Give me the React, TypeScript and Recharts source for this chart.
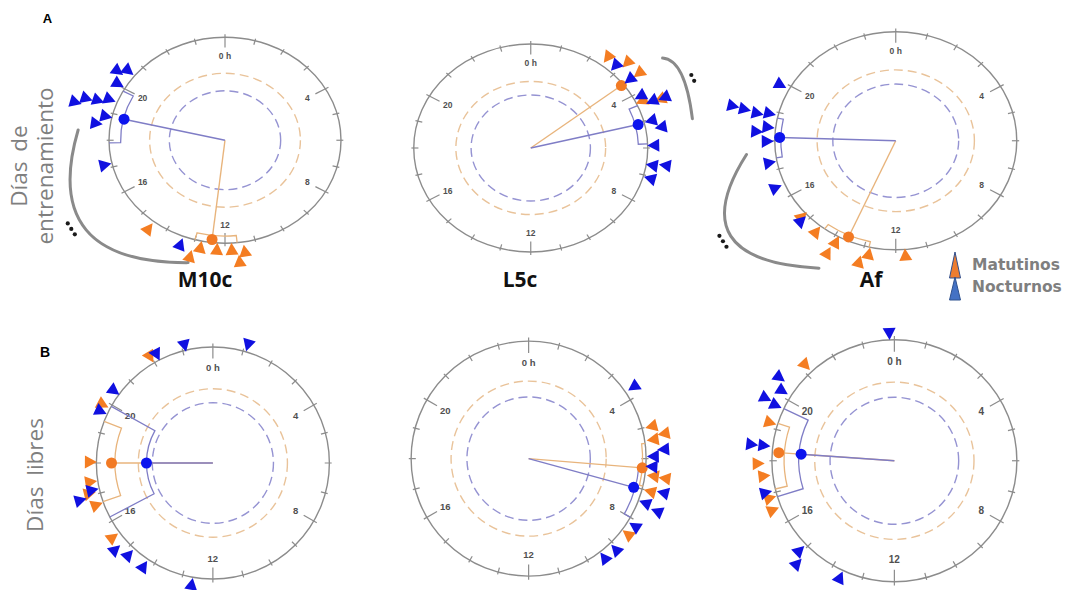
import React from "react";
import { ScatterChart, Scatter, XAxis, YAxis } from "recharts";

type HR = [number, number]; // [hora, radio]
type Ci = [number, number, number] | null; // [desde, hasta, radio]

const COLUMNS = ["M10c", "L5c", "Af"];
const ROW_TAGS = ["A", "B"];
const HOUR_LABELS: [number, string][] = [
  [0, "0 h"],
  [4, "4"],
  [8, "8"],
  [12, "12"],
  [16, "16"],
  [20, "20"],
];
const HOUR_TICKS = Array.from({ length: 24 }, (_, i) => i);
const LEGEND = ["Matutinos", "Nocturnos"];

// Días de entrenamiento
const trainM10cMorning: HR[] = [
  [14.5, 1.09], [13.0, 1.175], [12.77, 1.07], [12.25, 1.07], [11.79, 1.07], [11.4, 1.1], [11.59, 1.19],
];
const trainM10cNight: HR[] = [
  [20.4, 1.15], [20.6, 1.08], [20.05, 1.08], [19.07, 1.35], [19.25, 1.27], [19.3, 1.17],
  [19.45, 1.08], [18.56, 1.13], [18.85, 1.06], [17.13, 1.07], [13.39, 1.09],
];
const trainL5cMorning: HR[] = [
  [2.47, 1.1], [3.01, 1.17], [3.47, 1.18], [4.3, 1.06], [4.47, 1.21],
];
const trainL5cNight: HR[] = [
  [2.83, 1.08], [3.47, 1.08], [4.13, 1.07], [4.43, 1.14], [4.46, 1.25], [5.04, 1.07],
  [5.32, 1.14], [5.91, 1.06], [6.61, 1.06], [6.55, 1.17], [7.07, 1.07],
];
const trainAfMorning: HR[] = [
  [15.2, 1.05], [14.55, 1.07], [13.87, 1.06], [13.92, 1.18], [13.02, 1.16], [12.81, 1.07], [11.71, 1.06],
];
const trainAfNight: HR[] = [
  [19.89, 1.09], [18.89, 1.39], [18.87, 1.29], [18.83, 1.18], [18.9, 1.08], [18.28, 1.16],
  [18.45, 1.07], [17.98, 1.07], [17.27, 1.07], [16.43, 1.09], [15.12, 1.08],
];

// Días libres
const freeM10cMorning: HR[] = [
  [21.97, 1.07], [19.87, 1.08], [18.03, 1.06], [17.41, 1.07], [17.07, 1.1], [16.67, 1.07], [15.55, 1.08],
];
const freeM10cNight: HR[] = [
  [23.1, 1.05], [1.1, 1.07], [22.18, 1.06], [20.42, 1.06], [19.66, 1.07], [16.95, 1.19],
  [17.15, 1.07], [15.22, 1.13], [14.83, 1.08], [14.25, 1.08], [12.66, 1.07],
];
const freeL5cMorning: HR[] = [
  [5.02, 1.09], [5.3, 1.18], [5.42, 1.08], [6.53, 1.08], [6.55, 1.18], [7.01, 1.08], [8.49, 1.07],
];
const freeL5cNight: HR[] = [
  [3.71, 1.09], [5.74, 1.16], [5.93, 1.07], [6.25, 1.06], [6.95, 1.19], [7.39, 1.07],
  [7.49, 1.19], [8.17, 1.08], [9.08, 1.08], [9.51, 1.07],
];
const freeAfMorning: HR[] = [
  [21.16, 1.08], [19.15, 1.07], [17.92, 1.12], [17.55, 1.08], [16.87, 1.07], [16.51, 1.08],
];
const freeAfNight: HR[] = [
  [23.85, 1.06], [20.42, 1.17], [20.15, 1.09], [19.75, 1.18], [19.69, 1.08], [18.44, 1.18],
  [18.45, 1.08], [17.06, 1.09], [15.08, 1.08], [14.87, 1.17], [13.65, 1.07],
];

// vectores medios (M10c, L5c, Af)
const trainMeanMorning: HR[] = [[12.44, 0.97], [3.48, 0.98], [13.59, 0.965]];
const trainMeanNight: HR[] = [[18.88, 0.894], [5.08, 0.945], [18.12, 0.96]];
const freeMeanMorning: HR[] = [[18.0, 0.87], [6.31, 0.97], [18.27, 0.946]];
const freeMeanNight: HR[] = [[18.0, 0.57], [7.02, 0.927], [18.27, 0.763]];

// intervalos de confianza
const trainCiMorning: Ci[] = [[11.6, 13.0, 0.93], null, [12.85, 14.4, 0.95]];
const trainCiNight: Ci[] = [[17.9, 19.9, 0.9], [4.4, 5.85, 0.92], [17.4, 18.8, 0.95]];
const freeCiMorning: Ci[] = [[16.7, 19.4, 0.84], [5.5, 6.9, 0.97], [17.1, 19.2, 0.9]];
const freeCiNight: Ci[] = [[16.15, 19.95, 0.57], [6.3, 8.0, 0.94], [16.85, 19.7, 0.78]];

// círculos críticos (Rayleigh)
const ringMorning = [0.65, 0.64, 0.65, 0.64, 0.66, 0.65];
const ringNight = [0.48, 0.51, 0.52, 0.52, 0.525, 0.525];

// arcos de significación (solo fila A)
const sigStart: HR[] = [[18.3, 1.27], [3.5, 1.42], [17.61, 1.24]];
const sigMid: HR[] = [[15.6, 1.48], [4.07, 1.47], [15.82, 1.62]];
const sigEnd: HR[] = [[13.0, 1.23], [5.23, 1.41], [13.9, 1.33]];
const sigDots: HR[] = [[15.8, 1.58], [4.27, 1.54], [15.81, 1.7]];
const sigDotCount = [3, 2, 3];

const BOXES = [
  { cx: 225, cy: 140, rx: 116, ry: 103, font: 8.5 },
  { cx: 531, cy: 147.5, rx: 117, ry: 104, font: 8.5 },
  { cx: 895.5, cy: 141, rx: 121, ry: 109, font: 8.5 },
  { cx: 213, cy: 462.5, rx: 116.5, ry: 116, font: 9.5 },
  { cx: 529, cy: 458.5, rx: 117.5, ry: 117.5, font: 9.5 },
  { cx: 894.5, cy: 460.5, rx: 122.5, ry: 121, font: 10 },
];

const D = 1.75;
const BLUE = "#1010e0";
const ORANGE = "#f47d22";
const BLUE_LINE = "#7f7dc6";
const ORANGE_LINE = "#e8b47c";
const GRAY = "#8c8c8c";

function polar(h: number, r: number) {
  const a = (h / 24) * 2 * Math.PI;
  return { x: r * Math.sin(a), y: r * Math.cos(a) };
}

function Face(props: any) {
  const { cx, cy, kx, ky, font, ringM, ringN, ciM, ciN, sig } = props;
  const P = (h: number, r: number): [number, number] => {
    const p = polar(h, r);
    return [cx + p.x * kx, cy - p.y * ky];
  };
  const bracket = (ci: Ci, color: string) => {
    if (!ci) return null;
    const [from, to, r] = ci;
    const a = P(from, 1), b = P(from, r), c = P(to, r), d = P(to, 1);
    return (
      <path
        d={`M${a} L${b} A${r * kx} ${r * ky} 0 0 1 ${c} L${d}`}
        fill="none"
        stroke={color}
        strokeWidth={1.3}
      />
    );
  };
  let sigEl = null;
  if (sig) {
    const s = P(sig.start[0], sig.start[1]);
    const m = P(sig.mid[0], sig.mid[1]);
    const e = P(sig.end[0], sig.end[1]);
    const ctrl = [2 * m[0] - (s[0] + e[0]) / 2, 2 * m[1] - (s[1] + e[1]) / 2];
    const dc = P(sig.dot[0], sig.dot[1]);
    const th = (sig.dot[0] / 24) * 2 * Math.PI;
    const t = [Math.cos(th), Math.sin(th)];
    sigEl = (
      <g>
        <path d={`M${s} Q${ctrl} ${e}`} fill="none" stroke="#8a8a8a" strokeWidth={3} strokeLinecap="round" />
        {Array.from({ length: sig.n }, (_, i) => {
          const o = (i - (sig.n - 1) / 2) * 6.5;
          return <circle key={i} cx={dc[0] + o * t[0]} cy={dc[1] + o * t[1]} r={2.1} fill="#1a1a1a" />;
        })}
      </g>
    );
  }
  return (
    <g>
      <ellipse cx={cx} cy={cy} rx={kx} ry={ky} fill="none" stroke={GRAY} strokeWidth={1.4} />
      <ellipse cx={cx} cy={cy} rx={ringM * kx} ry={ringM * ky} fill="none" stroke="#e9c39a" strokeWidth={1.4} strokeDasharray="9 5" />
      <ellipse cx={cx} cy={cy} rx={ringN * kx} ry={ringN * ky} fill="none" stroke="#9593d2" strokeWidth={1.4} strokeDasharray="9 5" />
      {HOUR_TICKS.map((h) => {
        const major = h % 4 === 0;
        const a = P(h, major ? 0.9 : 0.96);
        const b = P(h, major ? 1.03 : 1.02);
        return <line key={h} x1={a[0]} y1={a[1]} x2={b[0]} y2={b[1]} stroke={GRAY} strokeWidth={1.2} />;
      })}
      {HOUR_LABELS.map(([h, lab]) => {
        const p = P(h, 0.82);
        return (
          <text key={h} x={p[0]} y={p[1]} textAnchor="middle" dominantBaseline="central"
            fontSize={font} fontWeight={700} fill="#505050" fontFamily="Liberation Sans, Arial, sans-serif">
            {lab}
          </text>
        );
      })}
      {bracket(ciM, ORANGE_LINE)}
      {bracket(ciN, BLUE_LINE)}
      {sigEl}
    </g>
  );
}

const triShape = (fill: string) => (p: any) => (
  <polygon
    points="0,-7.5 6.5,4.5 -6.5,4.5"
    transform={`translate(${p.cx},${p.cy}) rotate(${p.payload.h * 15 + 180})`}
    fill={fill}
  />
);

const dotShape = (fill: string) => (p: any) =>
  p.payload.end ? <circle cx={p.cx} cy={p.cy} r={5.5} fill={fill} /> : <g />;

const toPoints = (arr: HR[]) => arr.map(([h, r]) => ({ ...polar(h, r), h }));
const toVector = ([h, r]: HR) => [{ x: 0, y: 0, end: false }, { ...polar(h, r), end: true }];

function Panel(props: any) {
  const { box, morning, night, meanM, meanN, ciM, ciN, ringM, ringN, sig } = props;
  const W = 2 * D * box.rx;
  const H = 2 * D * box.ry;
  return (
    <div style={{ position: "absolute", left: box.cx - W / 2, top: box.cy - H / 2 }}>
      <ScatterChart width={W} height={H} margin={{ top: 0, right: 0, bottom: 0, left: 0 }}>
        <XAxis type="number" dataKey="x" domain={[-D, D]} hide allowDataOverflow />
        <YAxis type="number" dataKey="y" domain={[-D, D]} hide allowDataOverflow />
        <Scatter
          data={[{ x: 0, y: 0 }]}
          isAnimationActive={false}
          shape={(p: any) => (
            <Face cx={p.cx} cy={p.cy} kx={box.rx} ky={box.ry} font={box.font}
              ringM={ringM} ringN={ringN} ciM={ciM} ciN={ciN} sig={sig} />
          )}
        />
        <Scatter data={toVector(meanM)} isAnimationActive={false}
          line={{ stroke: ORANGE_LINE, strokeWidth: 1.4 }} shape={dotShape("#f27a24")} />
        <Scatter data={toVector(meanN)} isAnimationActive={false}
          line={{ stroke: BLUE_LINE, strokeWidth: 1.4 }} shape={dotShape("#0c14ee")} />
        <Scatter data={toPoints(morning)} isAnimationActive={false} shape={triShape(ORANGE)} />
        <Scatter data={toPoints(night)} isAnimationActive={false} shape={triShape(BLUE)} />
      </ScatterChart>
    </div>
  );
}

export default function App() {
  const morning = [trainM10cMorning, trainL5cMorning, trainAfMorning, freeM10cMorning, freeL5cMorning, freeAfMorning];
  const night = [trainM10cNight, trainL5cNight, trainAfNight, freeM10cNight, freeL5cNight, freeAfNight];
  const meanM = [...trainMeanMorning, ...freeMeanMorning];
  const meanN = [...trainMeanNight, ...freeMeanNight];
  const ciM = [...trainCiMorning, ...freeCiMorning];
  const ciN = [...trainCiNight, ...freeCiNight];
  const txt = { fontFamily: "Open Sans, sans-serif" };
  return (
    <div style={{ position: "absolute", left: 0, top: 0, width: 1073, height: 590, background: "#fff", overflow: "hidden" }}>
      <svg width={1073} height={590} style={{ position: "absolute", left: 0, top: 0 }}>
        <text x={47.5} y={22.5} textAnchor="middle" fontSize={13} fontWeight={700} fontFamily="Liberation Sans, Arial">{ROW_TAGS[0]}</text>
        <text x={45} y={356.5} textAnchor="middle" fontSize={14} fontWeight={700} fontFamily="Liberation Sans, Arial">{ROW_TAGS[1]}</text>
        <text x={27} y={166} transform="rotate(-90 27 166)" textAnchor="middle" fontSize={22.5} fill="#7f7f7f" wordSpacing={4} style={txt}>Días de</text>
        <text x={53} y={166} transform="rotate(-90 53 166)" textAnchor="middle" fontSize={22.5} fill="#7f7f7f" style={txt}>entrenamiento</text>
        <text x={43} y={475} transform="rotate(-90 43 475)" textAnchor="middle" fontSize={22.5} fill="#7f7f7f" wordSpacing={5} style={txt}>Días libres</text>
        {COLUMNS.map((c, i) => (
          <text key={c} x={[205, 520, 871][i]} y={287} textAnchor="middle" fontSize={21} fontWeight={700} fill="#111" style={txt}>{c}</text>
        ))}
      </svg>
      {BOXES.map((box, i) => (
        <Panel
          key={i}
          box={box}
          morning={morning[i]}
          night={night[i]}
          meanM={meanM[i]}
          meanN={meanN[i]}
          ciM={ciM[i]}
          ciN={ciN[i]}
          ringM={ringMorning[i]}
          ringN={ringNight[i]}
          sig={i < 3 ? { start: sigStart[i], mid: sigMid[i], end: sigEnd[i], dot: sigDots[i], n: sigDotCount[i] } : null}
        />
      ))}
      <svg width={1073} height={590} style={{ position: "absolute", left: 0, top: 0, pointerEvents: "none" }}>
        <polygon points="955,252 960.5,278 949.5,278" fill="#ed7d31" stroke="#2f4f8f" strokeWidth={1} />
        <polygon points="955,277 960.5,300 949.5,300" fill="#4472c4" stroke="#2f528f" strokeWidth={1} />
        <text x={972} y={270} fontSize={15.5} fontWeight={700} fill="#7f7f7f" fontFamily="DejaVu Sans, sans-serif">{LEGEND[0]}</text>
        <text x={972} y={292} fontSize={15.5} fontWeight={700} fill="#7f7f7f" fontFamily="DejaVu Sans, sans-serif">{LEGEND[1]}</text>
      </svg>
    </div>
  );
}
